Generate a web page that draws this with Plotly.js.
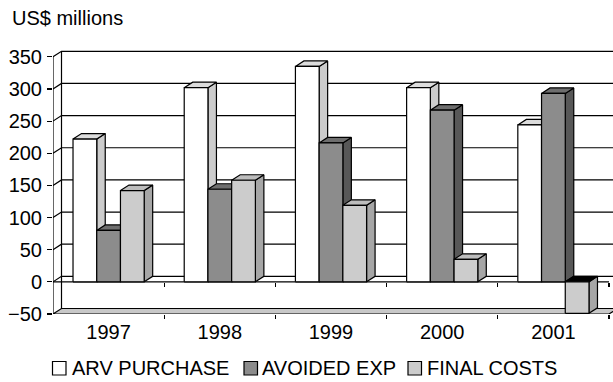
<!DOCTYPE html>
<html>
<head>
<meta charset="utf-8">
<script src="https://cdn.plot.ly/plotly-3.0.1.min.js"></script>
<style>
  html, body { margin: 0; padding: 0; background: #fff; }
  #chart { width: 613px; height: 382px; }
</style>
</head>
<body>
<div id="chart"></div>
<script>
// ---- data (US$ millions) ----
const years = ['1997', '1998', '1999', '2000', '2001'];
const arvPurchase = [222, 302, 335, 302, 244];
const avoidedExp  = [80, 144, 216, 267, 293];
const finalCosts  = [142, 158, 119, 35, -49];
const seriesNames = ['ARV PURCHASE', 'AVOIDED EXP', 'FINAL COSTS'];
const yTickValues = [-50, 0, 50, 100, 150, 200, 250, 300, 350];
const unitLabel = 'US$ millions';

// ---- page geometry ----
const W = 613, H = 382;
const M = { l: 53, r: 0, t: 50, b: 68, pad: 0 };
const plotW = W - M.l - M.r, plotH = H - M.t - M.b;
const pxPerCat = 111.2, pxPerUnit = 0.643;
const xMax = plotW / pxPerCat;
const yMin = -50, yMax = yMin + plotH / pxPerUnit;
const yTop = 350;
// oblique depth of the 3-D box, in axis units
const dx = 8.5 / pxPerCat, dy = 5.5 / pxPerUnit;
const sideGap = 0.18, barW = (1 - 2 * sideGap) / 3;
const FONT = 'Liberation Sans, Arial, sans-serif';
const FS_TICK = 20, FS_TEXT = 20;

const palette = [
  { front: '#ffffff', top: '#dcdcdc', side: '#cccccc' },
  { front: '#8c8c8c', top: '#6e6e6e', side: '#585858' },
  { front: '#cccccc', top: '#bdbdbd', side: '#a6a6a6' }
];
const series = [arvPurchase, avoidedExp, finalCosts];

function face(name, xs, ys, color) {
  return {
    type: 'scatter', mode: 'lines', name: name,
    x: xs, y: ys, fill: 'toself', fillcolor: color,
    line: { color: '#000', width: 1.2 },
    hoverinfo: 'skip', showlegend: false
  };
}

// each column = side face, top face, front face (painted left to right)
const traces = [];
years.forEach((yr, c) => {
  series.forEach((vals, s) => {
    const v = vals[c];
    const x0 = c + sideGap + s * barW, x1 = x0 + barW;
    const lo = Math.min(0, v), hi = Math.max(0, v);
    const col = palette[s];
    const nm = seriesNames[s] + ' ' + yr;
    traces.push(face(nm, [x1, x1 + dx, x1 + dx, x1, x1], [lo, lo + dy, hi + dy, hi, lo], col.side));
    traces.push(face(nm, [x0, x1, x1 + dx, x0 + dx, x0], [hi, hi, hi + dy, hi + dy, hi], v < 0 ? '#000000' : col.top));
    traces.push(face(nm, [x0, x1, x1, x0, x0], [lo, lo, hi, hi, lo], col.front));
  });
});
// carriers for the two category tick rows
traces.push({ type: 'scatter', x: [], y: [], xaxis: 'x2', yaxis: 'y', hoverinfo: 'skip', showlegend: false });
traces.push({ type: 'scatter', x: [], y: [], xaxis: 'x3', yaxis: 'y', hoverinfo: 'skip', showlegend: false });

// ---- walls, floor, axis lines ----
const LINE = { color: '#000', width: 1.2 };
const shapes = [];
yTickValues.filter(t => t >= 0).forEach(t => {
  shapes.push({
    type: 'path', xref: 'x', yref: 'y', layer: 'below', line: LINE,
    path: `M0,${t} L${dx},${t + dy} L${xMax + 1},${t + dy}`
  });
});
shapes.push({ type: 'line', xref: 'x', yref: 'y', layer: 'below', line: LINE,
  x0: dx, y0: yMin + dy, x1: dx, y1: yTop + dy });
const nCat = years.length;
shapes.push({
  type: 'path', xref: 'x', yref: 'y', layer: 'below', line: LINE, fillcolor: '#c8c8c8',
  path: `M0,${yMin} L${nCat},${yMin} L${nCat + dx},${yMin + dy} L${dx},${yMin + dy} Z`
});
shapes.push({ type: 'line', xref: 'x', yref: 'y', layer: 'below', line: LINE,
  x0: 0, y0: yMin, x1: 0, y1: yTop });
shapes.push({ type: 'line', xref: 'x', yref: 'y', layer: 'below', line: LINE,
  x0: 0, y0: 0, x1: nCat, y1: 0 });

// ---- legend ----
const px2x = px => (px - M.l) / plotW;
const py2y = py => (H - M.b - py) / plotH;
const legendBoxes = [[52.5, 66], [244, 257.5], [408, 421.5]];
const legendTextX = [70, 260, 425];
const legendY = [361.5, 375], legendMid = 368;
const annotations = [];
series.forEach((vals, s) => {
  shapes.push({
    type: 'rect', xref: 'paper', yref: 'paper', layer: 'above',
    x0: px2x(legendBoxes[s][0]), x1: px2x(legendBoxes[s][1]),
    y0: py2y(legendY[1]), y1: py2y(legendY[0]),
    fillcolor: palette[s].front, line: { color: '#000', width: 1.2 }
  });
  annotations.push({
    xref: 'paper', yref: 'paper', x: px2x(legendTextX[s]), y: py2y(legendMid),
    xanchor: 'left', yanchor: 'middle', showarrow: false, text: seriesNames[s],
    font: { family: FONT, size: FS_TEXT, color: '#000' }
  });
});
annotations.push({
  xref: 'paper', yref: 'paper', x: px2x(9.5), y: py2y(18.5),
  xanchor: 'left', yanchor: 'middle', showarrow: false, text: unitLabel,
  font: { family: FONT, size: FS_TEXT, color: '#000' }
});

const tickRow = {
  overlaying: 'x', range: [0, xMax], side: 'bottom',
  tickvals: years.map((_, i) => i + 1), ticks: 'outside', ticklen: 4,
  tickcolor: '#000', tickwidth: 1.2, showticklabels: false,
  showgrid: false, zeroline: false, showline: false, fixedrange: true
};

const layout = {
  width: W, height: H, margin: M,
  paper_bgcolor: '#fff', plot_bgcolor: '#fff', showlegend: false,
  font: { family: FONT, size: FS_TICK, color: '#000' },
  xaxis: {
    range: [0, xMax], tickvals: years.map((_, i) => i + 0.5), ticktext: years,
    ticks: '', showgrid: false, zeroline: false, showline: false, fixedrange: true,
    ticklabelstandoff: 4,
    tickfont: { family: FONT, size: FS_TICK, color: '#000' }
  },
  xaxis2: Object.assign({ anchor: 'y' }, tickRow),
  xaxis3: Object.assign({ anchor: 'free', position: (0 - yMin) / (yMax - yMin) }, tickRow),
  yaxis: {
    range: [yMin, yMax], tickvals: yTickValues, ticks: 'outside', ticklen: 5,
    tickcolor: '#000', tickwidth: 1.2, showgrid: false, zeroline: false, showline: false,
    fixedrange: true, ticklabelstandoff: 1,
    tickfont: { family: FONT, size: FS_TICK, color: '#000' }
  },
  shapes: shapes,
  annotations: annotations
};

Plotly.newPlot('chart', traces, layout, { staticPlot: true, displayModeBar: false });
</script>
</body>
</html>
